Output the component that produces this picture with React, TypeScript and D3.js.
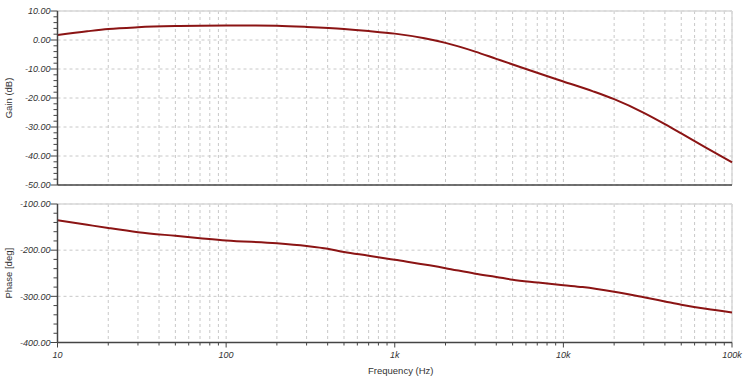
import React from "react";
import * as d3 from "d3";

const gainFreq = [10, 15, 20, 30, 50, 70, 100, 150, 200, 300, 500, 700, 1000, 1500, 2000, 3000, 4000, 6000, 10000, 15000, 20000, 30000, 40000, 50000, 70000, 100000];
const gainDb = [1.7, 3.0, 3.8, 4.4, 4.8, 4.95, 5.0, 5.0, 4.9, 4.5, 3.8, 3.1, 2.2, 0.6, -1.0, -4.0, -6.5, -10.0, -14.3, -17.7, -20.4, -25.1, -29.0, -32.2, -37.1, -42.2];

const phaseFreq = [10, 15, 20, 30, 50, 70, 100, 200, 300, 400, 500, 700, 1000, 2000, 3000, 4000, 5000, 7000, 10000, 13000, 20000, 30000, 40000, 50000, 70000, 100000];
const phaseDeg = [-135, -145, -152, -161, -169, -174, -179, -185, -191, -197, -204, -212, -221, -239, -251, -258, -264, -270, -276, -280, -290, -302, -311, -318, -327, -335];

const gainTicks = [10, 0, -10, -20, -30, -40, -50];
const phaseTicks = [-100, -200, -300, -400];
const freqMajor = [10, 100, 1000, 10000, 100000];
const freqLabels = ["10", "100", "1k", "10k", "100k"];

const W = 750;
const H = 384;
const X0 = 57.5;
const X1 = 732;
const textColor = "#333";
const lineColor = "#8b1414";
const font = "Arial, 'Liberation Sans', sans-serif";

function minorFreqs(): number[] {
  const out: number[] = [];
  for (let d = 10; d < 100000; d *= 10) {
    for (let k = 2; k <= 9; k++) out.push(d * k);
  }
  return out;
}

function minorVals(ticks: number[], sub: number): number[] {
  const out: number[] = [];
  const sorted = [...ticks].sort((a, b) => a - b);
  for (let i = 0; i < sorted.length - 1; i++) {
    const step = (sorted[i + 1] - sorted[i]) / sub;
    for (let k = 1; k < sub; k++) out.push(sorted[i] + step * k);
  }
  return out;
}

function Panel(props: {
  top: number;
  bottom: number;
  domain: [number, number];
  ticks: number[];
  freqs: number[];
  vals: number[];
  title: string;
  showX: boolean;
}) {
  const { top, bottom, domain, ticks, freqs, vals, title, showX } = props;
  const x = d3.scaleLog().domain([10, 100000]).range([X0, X1]);
  const y = d3.scaleLinear().domain(domain).range([bottom, top]);
  const allF = [...freqMajor, ...minorFreqs()];
  const line = d3
    .line<number>()
    .x((_, i) => x(freqs[i]))
    .y((v) => y(v))
    .curve(d3.curveMonotoneX);
  const minors = minorVals(ticks, 5);
  return (
    <g>
      {allF.map((f) => (
        <line key={"vg" + f} x1={x(f)} x2={x(f)} y1={top} y2={bottom} stroke="#c8c8c8" strokeDasharray="3,3" strokeWidth={1} />
      ))}
      {ticks.map((t) => (
        <line key={"hg" + t} x1={X0} x2={X1} y1={y(t)} y2={y(t)} stroke="#c8c8c8" strokeDasharray="3,3" strokeWidth={1} />
      ))}
      <line x1={X0} x2={X1} y1={top} y2={top} stroke="#d8d8d8" strokeWidth={1.5} />
      <line x1={X1} x2={X1} y1={top} y2={bottom} stroke="#d8d8d8" strokeWidth={1.5} />
      <path d={line(vals) || ""} fill="none" stroke={lineColor} strokeWidth={2} />
      <line x1={X0} x2={X0} y1={top} y2={bottom} stroke="#444" strokeWidth={1.5} />
      <line x1={X0} x2={X1} y1={bottom} y2={bottom} stroke="#444" strokeWidth={1.5} />
      {minors.map((m) => (
        <line key={"mt" + m} x1={X0 - 4} x2={X0} y1={y(m)} y2={y(m)} stroke="#444" strokeWidth={1} />
      ))}
      {ticks.map((t) => (
        <g key={"t" + t}>
          <line x1={X0 - 7} x2={X0} y1={y(t)} y2={y(t)} stroke="#444" strokeWidth={1} />
          <text x={X0 - 7} y={y(t) + 3.2} textAnchor="end" fontSize={9} fontStyle="italic" fill={textColor} fontFamily={font}>
            {t.toFixed(2)}
          </text>
        </g>
      ))}
      <text
        transform={`translate(12,${(top + bottom) / 2}) rotate(-90)`}
        textAnchor="middle"
        fontSize={9.5}
        fill={textColor}
        fontFamily={font}
      >
        {title}
      </text>
      {showX && (
        <g>
          {minorFreqs().map((f) => (
            <line key={"xt" + f} x1={x(f)} x2={x(f)} y1={bottom} y2={bottom + 3} stroke="#444" strokeWidth={1} />
          ))}
          {freqMajor.map((f, i) => (
            <g key={"xm" + f}>
              <line x1={x(f)} x2={x(f)} y1={bottom} y2={bottom + 5} stroke="#444" strokeWidth={1} />
              <text x={x(f)} y={bottom + 15} textAnchor="middle" fontSize={9} fontStyle="italic" fill={textColor} fontFamily={font}>
                {freqLabels[i]}
              </text>
            </g>
          ))}
          <text x={x(1000) + 6} y={bottom + 31} textAnchor="middle" fontSize={9.5} fill={textColor} fontFamily={font}>
            Frequency (Hz)
          </text>
        </g>
      )}
    </g>
  );
}

export default function App() {
  return (
    <svg width={W} height={H} style={{ position: "absolute", left: 0, top: 0, background: "#fff" }}>
      <rect width={W} height={H} fill="#fff" />
      <Panel top={11} bottom={185} domain={[-50, 10]} ticks={gainTicks} freqs={gainFreq} vals={gainDb} title="Gain (dB)" showX={false} />
      <Panel top={204} bottom={342.5} domain={[-400, -100]} ticks={phaseTicks} freqs={phaseFreq} vals={phaseDeg} title="Phase [deg]" showX={true} />
    </svg>
  );
}
